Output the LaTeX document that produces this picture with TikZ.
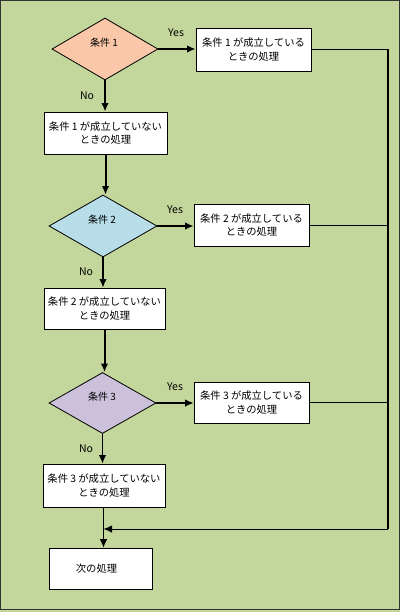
\documentclass[tikz,border=0pt]{standalone}
\usepackage{fontspec}
\setmainfont{Noto Sans CJK JP}
\usetikzlibrary{shapes.geometric,arrows.meta}
\definecolor{bggreen}{HTML}{C3D69B}
\definecolor{peach}{HTML}{FAC8A8}
\definecolor{lblue}{HTML}{B7DDE8}
\definecolor{lpurple}{HTML}{CCC1DA}
\tikzset{
  x=1pt,y=-1pt,
  box/.style={draw=black,fill=white,line width=0.8pt,inner sep=0pt,align=center,
    font=\fontsize{10.3}{13.5}\selectfont},
  cond/.style={diamond,draw=black,line width=0.8pt,inner sep=0pt},
  ctext/.style={font=\fontsize{10}{12}\selectfont,inner sep=0pt},
  lbl/.style={font=\fontsize{10.5}{12}\selectfont,inner sep=0pt},
  thickarr/.style={line width=2pt,-{Latex[length=8.5pt,width=7.5pt]}},
  medarr/.style={line width=1.3pt,-{Latex[length=8.5pt,width=7.5pt]}},
  thinarr/.style={line width=0.9pt,-{Latex[length=8.5pt,width=7.5pt]}},
  thinline/.style={line width=0.9pt},
}
\begin{document}
\begin{tikzpicture}
\fill[bggreen] (0,0) rectangle (400,612);
\draw[black!80,line width=1pt] (0.5,0.5) rectangle (399.5,609.5);
\useasboundingbox (0,0) rectangle (400,612);

% condition diamonds
\node[cond,fill=peach,minimum width=106pt,minimum height=62pt] (d1) at (105,49) {};
\node[ctext] (t1) at (104,43) {条件 1};
\node[cond,fill=lblue,minimum width=108pt,minimum height=62pt] (d2) at (103,226) {};
\node[ctext] (t2) at (102,220) {条件 2};
\node[cond,fill=lpurple,minimum width=107pt,minimum height=61pt] (d3) at (102.5,403) {};
\node[ctext] (t3) at (102,397) {条件 3};

% yes boxes
\node[box,minimum width=115pt,minimum height=43pt] (y1) at (253.5,49.5) {条件 1 が成立している\\ときの処理};
\node[box,minimum width=115pt,minimum height=42pt] (y2) at (251.5,225) {条件 2 が成立している\\ときの処理};
\node[box,minimum width=115pt,minimum height=41pt] (y3) at (251.5,402.5) {条件 3 が成立している\\ときの処理};

% no boxes
\node[box,minimum width=123pt,minimum height=42pt] (n1) at (105.5,133) {条件 1 が成立していない\\ときの処理};
\node[box,minimum width=121pt,minimum height=41pt] (n2) at (104.5,308.5) {条件 2 が成立していない\\ときの処理};
\node[box,minimum width=122pt,minimum height=43pt] (n3) at (104,485.5) {条件 3 が成立していない\\ときの処理};

% next box
\node[box,minimum width=103pt,minimum height=41pt] (nx) at (100.5,568.5) {\hspace*{-8pt}次の処理};

% labels
\node[lbl] (yes1) at (176,33) {Yes};
\node[lbl] (yes2) at (175,210) {Yes};
\node[lbl] (yes3) at (175,387) {Yes};
\node[lbl] (no1) at (87,96) {No};
\node[lbl] (no2) at (86,272) {No};
\node[lbl] (no3) at (86,449) {No};

% coordinates for the right return line
\coordinate (rtop) at (388,49.5);
\coordinate (rbot) at (388,529);
\coordinate (merge) at (103.5,529);

% yes arrows
\draw[thickarr] (d1.east) -- (d1.east -| y1.west);
\draw[thickarr] (d2.east) -- (d2.east -| y2.west);
\draw[medarr] (d3.east) -- (d3.east -| y3.west);

% no arrows
\draw[thickarr] (d1.south) -- (d1.south |- n1.north);
\draw[thickarr] (d2.south) -- (d2.south |- n2.north);
\draw[medarr] (d3.south) -- (d3.south |- n3.north);

% between blocks
\draw[thickarr] (n1.south) -- (n1.south |- d2.north);
\draw[thickarr] (n2.south) -- (n2.south |- d3.north);

% return lines
\draw[line width=1.3pt] (y1.east) -- (rtop) -- (rbot);
\draw[thinline] (y2.east) -- (y2.east -| rtop);
\draw[thinline] (y3.east) -- (y3.east -| rtop);
\draw[thinarr] (rbot) -- (merge);
\draw[thinarr] (n3.south -| merge) -- (merge |- nx.north);
\end{tikzpicture}
\end{document}
